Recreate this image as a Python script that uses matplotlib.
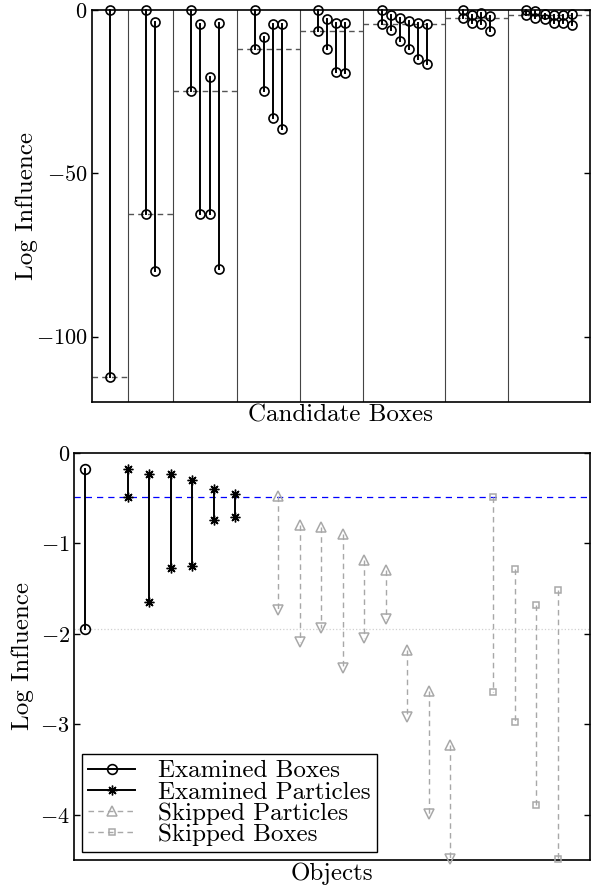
import matplotlib
matplotlib.use('Agg')
import matplotlib.pyplot as plt
import numpy as np

plt.rcParams['font.family'] = 'cmr10'
plt.rcParams['mathtext.fontset'] = 'cm'
plt.rcParams['axes.formatter.use_mathtext'] = True
plt.rcParams['font.size'] = 18
plt.rcParams['ytick.labelsize'] = 16

# candidate boxes: number of stems per box and the top/bottom of every stem
box_sizes = [1, 2, 4, 4, 4, 6, 4, 6]
cand_top = [0,
            0, -3.8,
            0, -4.3, -20.6, -3.9,
            0, -8.2, -4.3, -4.3,
            0, -2.8, -4.1, -4.1,
            0, -1.5, -2.5, -3.4, -4.1, -4.3,
            0, -1.5, -0.8, -1.7,
            0, -0.2, -1.2, -1.5, -1.5, -1.2]
cand_bottom = [-112.4,
               -62.3, -80.0,
               -24.7, -62.3, -62.3, -79.3,
               -11.8, -24.7, -33.2, -36.3,
               -6.3, -11.8, -18.9, -19.4,
               -4.2, -6.1, -9.6, -11.8, -14.9, -16.5,
               -2.3, -3.9, -4.3, -6.3,
               -1.6, -2.5, -2.8, -3.9, -4.1, -4.6]

# objects
exam_box_x = [1]
exam_box_top = [-0.18]
exam_box_bottom = [-1.95]
exam_part_x = [3, 4, 5, 6, 7, 8]
exam_part_top = [-0.18, -0.23, -0.23, -0.30, -0.40, -0.45]
exam_part_bottom = [-0.49, -1.65, -1.27, -1.25, -0.74, -0.71]
skip_part_x = [10, 11, 12, 13, 14, 15, 16, 17, 18]
skip_part_top = [-0.48, -0.80, -0.82, -0.90, -1.18, -1.29, -2.18, -2.63, -3.23]
skip_part_bottom = [-1.74, -2.09, -1.93, -2.38, -2.05, -1.84, -2.92, -3.99, -4.49]
skip_box_x = [20, 21, 22, 23]
skip_box_top = [-0.49, -1.28, -1.68, -1.52]
skip_box_bottom = [-2.64, -2.98, -3.89, -4.49]
threshold = -0.49
worst_box = -1.95

gray = '#a8a8a8'
star = (8, 2, 0)  # asterisk marker

fig = plt.figure(figsize=(5.95, 8.92), dpi=100)

# ---- top: candidate boxes ----
ax1 = fig.add_axes([0.1543, 0.5493, 0.8370, 0.4395])
k = 0
left = 0
for n in box_sizes:
    xs = left + 2 + np.arange(n)
    right = xs[-1] + 2
    ax1.plot([left, right], [cand_bottom[k], cand_bottom[k]], color='#555555',
             lw=1.0, dashes=(4, 3), zorder=1)
    for x in xs:
        ax1.plot([x, x], [cand_top[k], cand_bottom[k]], 'k-o', lw=1.4, ms=6.5,
                 mfc='none', mew=1.2, clip_on=False, zorder=3)
        k += 1
    if right < 55:
        ax1.axvline(right, color='#444444', lw=0.8, zorder=2)
    left = right

ax1.set_xlim(0, 55)
ax1.set_ylim(-120, 0)
ax1.set_xticks([])
ax1.set_yticks([0, -50, -100])
ax1.tick_params(direction='in', right=True, length=4, width=1, pad=3)
ax1.set_xlabel('Candidate Boxes', labelpad=2)
ax1.set_ylabel('Log Influence')
ax1.yaxis.set_label_coords(-0.108, 0.5)
for s in ax1.spines.values():
    s.set_linewidth(1.2)

# ---- bottom: objects ----
ax2 = fig.add_axes([0.1244, 0.0359, 0.8672, 0.4563])
ax2.axhline(threshold, color='#0000ff', lw=0.9, dashes=(5, 4), zorder=1)
ax2.axhline(worst_box, color='#d0d0d0', lw=0.9, ls=':', zorder=1)

for x, t, b in zip(exam_box_x, exam_box_top, exam_box_bottom):
    ax2.plot([x, x], [t, b], 'k-o', lw=1.4, ms=7, mfc='none', mew=1.2, zorder=3)
for x, t, b in zip(exam_part_x, exam_part_top, exam_part_bottom):
    ax2.plot([x, x], [t, b], 'k-', lw=1.4, marker=star, ms=7, mew=1.0, zorder=3)
for x, t, b in zip(skip_part_x, skip_part_top, skip_part_bottom):
    ax2.plot([x, x], [t, b], color=gray, lw=1.0, dashes=(4, 3), zorder=2)
    ax2.plot(x, t, '^', color=gray, ms=7, mfc='none', mew=1.1, clip_on=False, zorder=3)
    ax2.plot(x, b, 'v', color=gray, ms=7, mfc='none', mew=1.1, clip_on=False, zorder=3)
for x, t, b in zip(skip_box_x, skip_box_top, skip_box_bottom):
    ax2.plot([x, x], [t, b], color=gray, lw=1.0, dashes=(4, 3), marker='s', ms=5,
             mfc='none', mew=1.1, clip_on=False, zorder=3)

ax2.set_xlim(0.5, 24.5)
ax2.set_ylim(-4.5, 0)
ax2.set_xticks([])
ax2.set_yticks([0, -1, -2, -3, -4])
ax2.tick_params(direction='in', right=True, length=4, width=1, pad=3)
ax2.set_xlabel('Objects', labelpad=2)
ax2.set_ylabel('Log Influence')
ax2.yaxis.set_label_coords(-0.078, 0.5)
for s in ax2.spines.values():
    s.set_linewidth(1.2)

handles = [
    plt.Line2D([], [], color='k', lw=1.4, marker='o', ms=7, mfc='none', mew=1.2),
    plt.Line2D([], [], color='k', lw=1.4, marker=star, ms=7, mew=1.0),
    plt.Line2D([], [], color=gray, lw=1.0, dashes=(4, 3), marker='^', ms=7, mfc='none', mew=1.1),
    plt.Line2D([], [], color=gray, lw=1.0, dashes=(4, 3), marker='s', ms=5, mfc='none', mew=1.1),
]
leg = ax2.legend(handles, ['Examined Boxes', 'Examined Particles', 'Skipped Particles',
                           'Skipped Boxes'],
                 loc='lower left', fontsize=18, fancybox=False, edgecolor='k',
                 framealpha=1, handlelength=1.9, borderaxespad=0.3, labelspacing=-0.05,
                 borderpad=0.25, handletextpad=0.9)
leg.get_frame().set_linewidth(1.0)

fig.savefig('out.png', dpi=100)
